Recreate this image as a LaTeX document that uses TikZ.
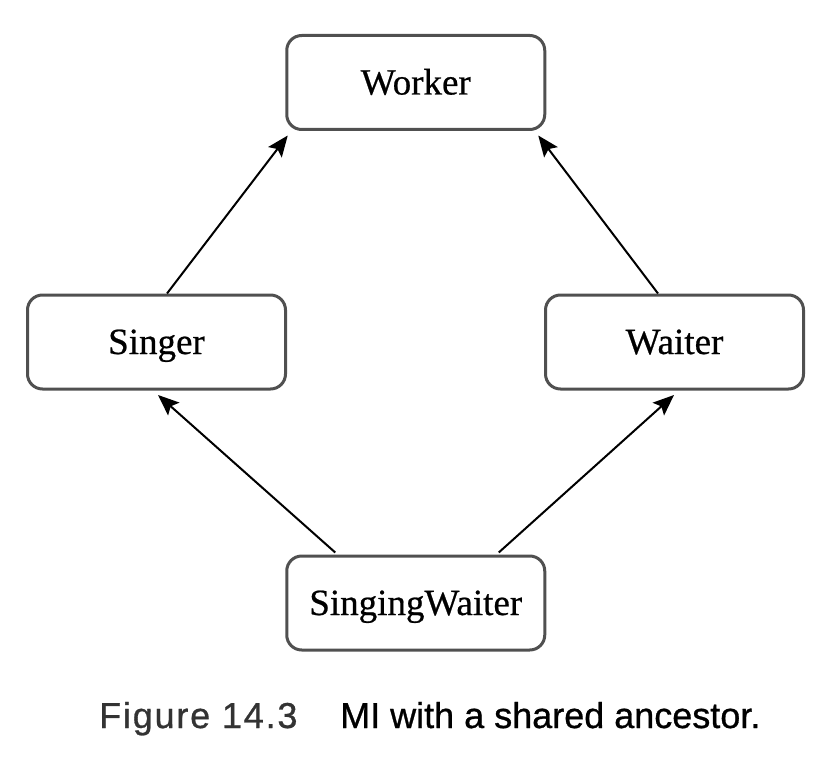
\documentclass[tikz,border=0pt]{standalone}
\usepackage{fontspec}
\setmainfont[FakeBold=0.6]{Liberation Serif}
\newfontfamily\capfont[FakeBold=0.8]{Liberation Sans}
\newfontfamily\capnumfont[FakeBold=0.8,LetterSpace=5]{Liberation Sans}
\usetikzlibrary{arrows.meta,calc}
\definecolor{boxline}{HTML}{505050}
\definecolor{figgray}{HTML}{333333}
\begin{document}
\begin{tikzpicture}[x=1pt,y=-1pt,
  classbox/.style={draw=boxline,line width=3pt,rounded corners=15pt,fill=white,
    minimum width=258pt,minimum height=94pt,inner sep=0pt,
    text height=24pt,text depth=0pt,font=\fontsize{37}{42}\selectfont},
  inherit/.style={draw=black,line width=2pt,-{Stealth[length=21pt,width=17pt,inset=4pt]}},
  captext/.style={anchor=base west,inner sep=0pt,font=\capfont\fontsize{36}{42}\selectfont}]
\useasboundingbox (0,0) rectangle (832,770);
\fill[white] (0,0) rectangle (832,770);

% class hierarchy
\node[classbox] (worker) at (415.75,82.5) {Worker};
\node[classbox] (singer) at (156.5,342) {Singer};
\node[classbox] (waiter) at (674.5,342) {Waiter};
\node[classbox] (sw) at (415.75,603) {SingingWaiter};

% inheritance arrows
\draw[inherit] ($(singer.north)+(10.5,0)$) -- ($(worker.south west)+(2.5,4.5)$);
\draw[inherit] ($(waiter.north)+(-16.5,0)$) -- ($(worker.south east)+(-8,4.5)$);
\draw[inherit] ($(sw.north west)+(50,-2)$) -- ($(singer.south)+(1.5,4.5)$);
\draw[inherit] ($(sw.north east)+(-47.5,-2)$) -- ($(waiter.south)+(-0.5,4.5)$);

% caption
\node[captext,text=figgray,font=\capnumfont\fontsize{36}{42}\selectfont] (fignum) at (99,728) {Figure 14.3};
\node[captext,text=black] (captxt) at (340,728) {MI with a shared ancestor.};
\end{tikzpicture}
\end{document}
